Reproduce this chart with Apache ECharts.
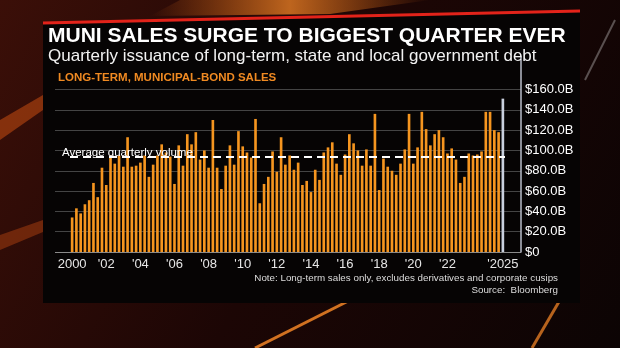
<!DOCTYPE html>
<html>
<head>
<meta charset="utf-8">
<script src="https://cdn.jsdelivr.net/npm/echarts@6/dist/echarts.min.js"></script>
<style>
html,body{margin:0;padding:0;background:#140505;}
#chart{width:620px;height:348px;}
</style>
</head>
<body>
<div id="chart"></div>
<script>
// Quarterly long-term municipal bond sales, $B (2000 Q1 .. 2025 Q2)
const years = [2000,2001,2002,2003,2004,2005,2006,2007,2008,2009,2010,2011,2012,2013,2014,2015,2016,2017,2018,2019,2020,2021,2022,2023,2024,2025];
const quarterNames = ['Q1','Q2','Q3','Q4'];
const sales = [
  34, 43, 38, 47,    // 2000
  51, 68, 54, 83,    // 2001
  66, 95, 87, 95,    // 2002
  84, 113, 84, 85,   // 2003
  88, 95, 74, 86,    // 2004
  95, 106, 98, 94,   // 2005
  67, 105, 85, 116,  // 2006
  106, 118, 91, 100, // 2007
  83, 130, 83, 62,   // 2008
  85, 105, 86, 119,  // 2009
  104, 98, 93, 131,  // 2010
  48, 67, 74, 99,    // 2011
  79, 113, 86, 95,   // 2012
  81, 88, 66, 70,    // 2013
  59, 81, 71, 98,    // 2014
  103, 108, 87, 76,  // 2015
  96, 116, 107, 100, // 2016
  85, 101, 85, 136,  // 2017
  61, 92, 84, 80,    // 2018
  76, 87, 101, 136,  // 2019
  87, 103, 138, 121, // 2020
  105, 116, 120, 113,// 2021
  97, 102, 91, 68,   // 2022
  74, 97, 95, 96,    // 2023
  99, 138, 138, 120, // 2024
  118, 151           // 2025 (Q2 highlighted)
];
const highlightIndex = 101;
const averageVolume = 94;
const tickQuarters = ['2000 Q1','2002 Q1','2004 Q1','2006 Q1','2008 Q1','2010 Q1','2012 Q1','2014 Q1','2016 Q1','2018 Q1','2020 Q1','2022 Q1','2025 Q2'];
const tickLabels = ['2000',"'02","'04","'06","'08","'10","'12","'14","'16","'18","'20","'22","'2025"];
const yTicks = [0,20,40,60,80,100,120,140,160];

const categories = [];
years.forEach(y => quarterNames.forEach(q => categories.push(y + ' ' + q)));
categories.length = sales.length;

const FONT = "'Liberation Sans', Arial, sans-serif";
const ORANGE = '#f5951f';
const HIGHLIGHT = '#c9d0de';

const chart = echarts.init(document.getElementById('chart'), null, {renderer:'canvas'});

const barData = sales.map((v, i) => i === highlightIndex
  ? {value: v, itemStyle: {color: HIGHLIGHT}}
  : v);

const gridColors = yTicks.map((t, i) => i === 0 ? '#8a8a8a' : '#444444').concat(['rgba(0,0,0,0)','rgba(0,0,0,0)']);

chart.setOption({
  backgroundColor: '#170606',
  animation: false,
  graphic: [
    // studio background
    {type:'rect', silent:true, z:-10, shape:{x:0,y:0,width:620,height:348},
      style:{fill:new echarts.graphic.LinearGradient(0,0,1,1,[
        {offset:0,color:'#3b0f08'},{offset:0.5,color:'#1c0605'},{offset:1,color:'#0c0404'}])}},
    {type:'polygon', silent:true, z:-9, shape:{points:[[180,0],[430,0],[330,14],[150,16]]},
      style:{fill:new echarts.graphic.LinearGradient(0,0,1,0,[
        {offset:0,color:'rgba(255,120,20,0)'},{offset:0.5,color:'rgba(255,140,40,0.7)'},{offset:1,color:'rgba(255,120,20,0)'}])}},
    {type:'polygon', silent:true, z:-9, shape:{points:[[0,120],[43,95],[43,110],[0,140]]},
      style:{fill:'rgba(230,90,20,0.45)'}},
    {type:'polygon', silent:true, z:-9, shape:{points:[[0,235],[43,220],[43,232],[0,250]]},
      style:{fill:'rgba(230,90,20,0.35)'}},
    {type:'line', silent:true, z:-9, shape:{x1:255,y1:348,x2:380,y2:285}, style:{stroke:'rgba(255,140,40,0.8)',lineWidth:3}},
    {type:'line', silent:true, z:-9, shape:{x1:532,y1:348,x2:560,y2:300}, style:{stroke:'rgba(255,140,40,0.7)',lineWidth:3}},
    {type:'line', silent:true, z:-9, shape:{x1:585,y1:80,x2:615,y2:20}, style:{stroke:'rgba(220,220,220,0.35)',lineWidth:2}},
    // black panel
    {type:'polygon', silent:true, z:-8, shape:{points:[[43,23],[580,11],[580,303],[43,303]]},
      style:{fill:'#060404'}},
    {type:'line', silent:true, z:-7, shape:{x1:43,y1:23,x2:580,y2:11}, style:{stroke:'#e2231a',lineWidth:3}}
  ],
  title: [
    {text:'MUNI SALES SURGE TO BIGGEST QUARTER EVER', left:48, top:26, padding:0,
      textStyle:{color:'#ffffff', fontSize:21, fontWeight:'bold', fontFamily:FONT}},
    {text:'Quarterly issuance of long-term, state and local government debt', left:48, top:48, padding:0,
      textStyle:{color:'#f2f2f2', fontSize:17, fontWeight:'normal', fontFamily:FONT}},
    {text:'LONG-TERM, MUNICIPAL-BOND SALES', left:58, top:72, padding:0,
      textStyle:{color:'#f08a22', fontSize:11.5, fontWeight:'bold', fontFamily:FONT}},
    {text:'Note: Long-term sales only, excludes derivatives and corporate cusips', right:62, top:273, padding:0,
      textStyle:{color:'#dddddd', fontSize:9.8, fontWeight:'normal', fontFamily:FONT}},
    {text:'Source:  Bloomberg', right:62, top:285, padding:0,
      textStyle:{color:'#dddddd', fontSize:9.8, fontWeight:'normal', fontFamily:FONT}}
  ],
  grid: [
    {left:55, right:99, top:57, bottom:96, containLabel:false},
    {left:70, right:115, top:57, bottom:96, containLabel:false}
  ],
  xAxis: [
    {type:'value', gridIndex:0, min:0, max:1, show:false},
    {type:'category', gridIndex:1, data:categories, boundaryGap:true,
      axisLine:{show:false}, axisTick:{show:false},
      axisLabel:{interval:0, color:'#e6e6e6', fontSize:13, fontFamily:FONT, margin:6,
        formatter: v => { const i = tickQuarters.indexOf(v); return i >= 0 ? tickLabels[i] : ''; }}}
  ],
  yAxis: [
    {type:'value', gridIndex:0, position:'right', min:0, max:192, interval:20,
      axisLine:{show:true, onZero:false, lineStyle:{color:'#b8bcc8', width:1.5}},
      axisTick:{show:false},
      splitLine:{show:true, showMaxLine:false, lineStyle:{color:gridColors, width:1}},
      axisLabel:{showMaxLabel:false, color:'#ffffff', fontSize:13, fontFamily:FONT, margin:4,
        formatter: v => v === 0 ? '$0' : (v > 160 ? '' : '$' + v.toFixed(1) + 'B')}},
    {type:'value', gridIndex:1, min:0, max:192, interval:20, show:false}
  ],
  series: [
    {type:'bar', xAxisIndex:1, yAxisIndex:1, data:barData, barCategoryGap:'38%',
      itemStyle:{color:ORANGE},
      markLine:{silent:true, symbol:['none','none'],
        lineStyle:{color:'#ffffff', type:[8,5], width:2},
        label:{show:true, position:'insideStartTop', formatter:'Average quarterly volume',
          color:'#ffffff', fontSize:11.5, fontFamily:FONT, distance:[-8,-2]},
        data:[{yAxis:averageVolume}]}}
  ]
});
</script>
</body>
</html>
